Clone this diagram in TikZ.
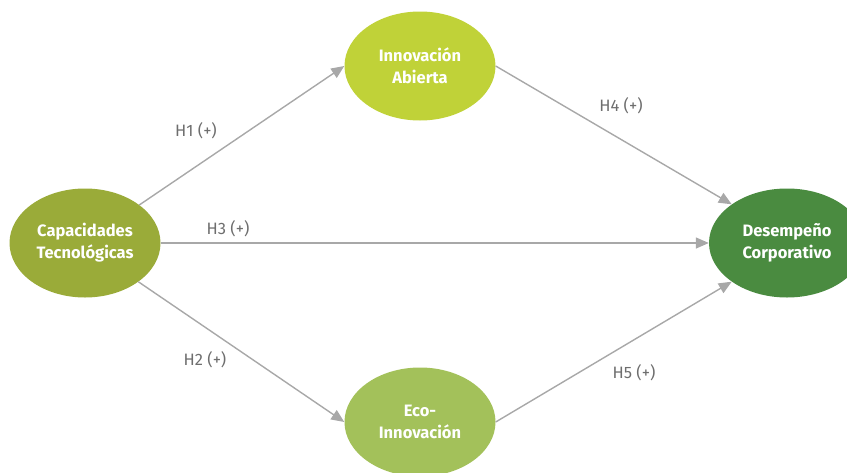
\documentclass[tikz,border=0pt]{standalone}
\usepackage{fontspec}
\setmainfont{Fira Sans}
\usetikzlibrary{shapes.geometric,arrows.meta}
\definecolor{capc}{RGB}{154,171,57}
\definecolor{abic}{RGB}{192,210,56}
\definecolor{desc}{RGB}{74,139,64}
\definecolor{ecoc}{RGB}{163,193,90}
\definecolor{arrc}{RGB}{168,168,168}
\definecolor{labc}{RGB}{110,110,110}
\tikzset{
  ell/.style={ellipse, inner sep=0pt, text=white, align=center,
    minimum width=151pt, minimum height=109pt,
    font=\fontsize{16.5}{22}\selectfont\bfseries},
  conn/.style={draw=arrc, line width=1.4pt, -{Triangle[length=13pt,width=11pt]}},
  hyp/.style={text=labc, font=\fontsize{16.5}{18}\selectfont}
}
\begin{document}
\begin{tikzpicture}[x=1pt,y=-1pt]
\useasboundingbox (0,0) rectangle (847,472);
\clip (0,0) rectangle (847,472);
\node[ell, fill=capc] (cap) at (85,243) {Capacidades\\Tecnológicas};
\node[ell, fill=abic] (abi) at (420,66) {Innovación\\Abierta};
\node[ell, fill=desc, minimum width=156pt] (des) at (787,243) {Desempeño\\Corporativo};
\node[ell, fill=ecoc] (eco) at (420,422) {Eco-\\Innovación};
\draw[conn] (cap.35) -- (abi.west);
\draw[conn] (cap.east) -- (des.west);
\draw[conn] (cap.-36) -- (eco.west);
\draw[conn] (abi.east) -- (des.145);
\draw[conn] (eco.east) -- (des.215);
\node[hyp] (h1) at (196,131) {H1 (+)};
\node[hyp] (h3) at (228,229) {H3 (+)};
\node[hyp] (h2) at (205,360) {H2 (+)};
\node[hyp] (h4) at (621,106) {H4 (+)};
\node[hyp] (h5) at (634,373) {H5 (+)};
\end{tikzpicture}
\end{document}
